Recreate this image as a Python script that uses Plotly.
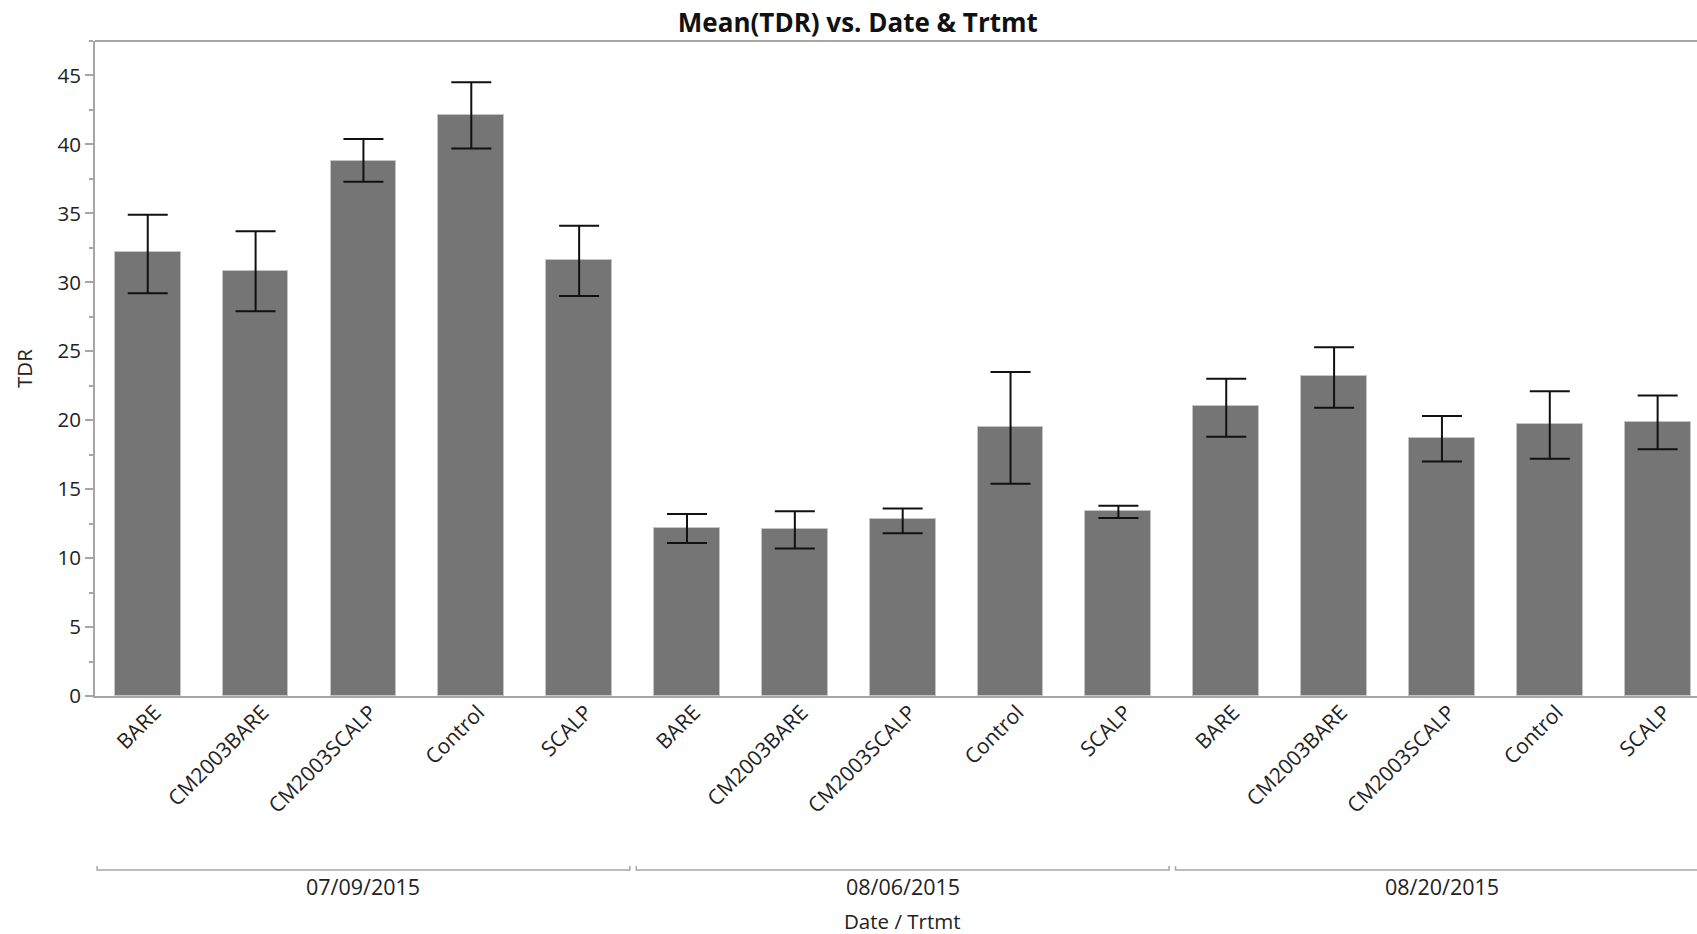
import plotly.graph_objects as go

# Mean TDR by sampling date and treatment, with confidence-interval bounds
dates = ["07/09/2015", "08/06/2015", "08/20/2015"]
treatments = ["BARE", "CM2003BARE", "CM2003SCALP", "Control", "SCALP"]

mean_0709 = [32.2, 30.8, 38.8, 42.1, 31.6]
upper_0709 = [34.9, 33.7, 40.4, 44.5, 34.1]
lower_0709 = [29.2, 27.9, 37.3, 39.7, 29.0]

mean_0806 = [12.2, 12.1, 12.8, 19.5, 13.4]
upper_0806 = [13.2, 13.4, 13.6, 23.5, 13.8]
lower_0806 = [11.1, 10.7, 11.8, 15.4, 12.9]

mean_0820 = [21.0, 23.2, 18.7, 19.7, 19.9]
upper_0820 = [23.0, 25.3, 20.3, 22.1, 21.8]
lower_0820 = [18.8, 20.9, 17.0, 17.2, 17.9]

means = mean_0709 + mean_0806 + mean_0820
uppers = upper_0709 + upper_0806 + upper_0820
lowers = lower_0709 + lower_0806 + lower_0820
labels = treatments * len(dates)
xpos = list(range(len(means)))

FONT = "Open Sans, Noto Sans, sans-serif"
AXIS_GREY = "#a6a6a6"
TEXT = "#222222"

fig = go.Figure()
fig.add_trace(go.Bar(
    x=xpos,
    y=means,
    width=0.61,
    marker=dict(color="#757575", line=dict(color="#c4c4c4", width=1)),
    error_y=dict(
        type="data",
        symmetric=False,
        array=[u - m for u, m in zip(uppers, means)],
        arrayminus=[m - l for m, l in zip(means, lowers)],
        color="#111111",
        thickness=2,
        width=20,
    ),
    hovertemplate="%{y:.2f}<extra></extra>",
))

n = len(treatments)
shapes = []
annotations = []
for g, d in enumerate(dates):
    x0 = g * n - 0.47
    x1 = g * n + n - 1 + 0.47
    shapes.append(dict(
        type="path", xref="x", yref="paper",
        path=f"M {x0},-0.2595 L {x0},-0.2655 L {x1},-0.2655 L {x1},-0.2595",
        line=dict(color=AXIS_GREY, width=1.5),
    ))
    annotations.append(dict(
        x=g * n + (n - 1) / 2, y=-0.291, xref="x", yref="paper",
        text=d, showarrow=False, font=dict(family=FONT, size=21.5, color=TEXT),
        xanchor="center", yanchor="middle",
    ))

annotations.append(dict(
    x=(len(means) - 1) / 2, y=-0.3435, xref="x", yref="paper",
    text="Date / Trtmt", showarrow=False,
    font=dict(family=FONT, size=20.5, color=TEXT),
    xanchor="center", yanchor="middle",
))

# plot-area top border
shapes.append(dict(type="line", xref="paper", yref="paper", x0=0, x1=1, y0=1, y1=1,
                   line=dict(color=AXIS_GREY, width=2)))

fig.update_layout(
    width=1697, height=934,
    margin=dict(l=95, r=0, t=41, b=238),
    paper_bgcolor="white", plot_bgcolor="white",
    showlegend=False,
    title=dict(text="<b>Mean(TDR) vs. Date & Trtmt</b>", x=0.5055, xanchor="center",
               y=0.975, yanchor="middle",
               font=dict(family=FONT, size=26, color="#111111")),
    font=dict(family=FONT, size=20, color=TEXT),
    shapes=shapes,
    annotations=annotations,
    bargap=0,
)

fig.update_xaxes(
    range=[-0.489, len(means) - 1 + 0.365],
    tickmode="array", tickvals=xpos, ticktext=labels,
    tickangle=-45, ticks="", showgrid=False, zeroline=False,
    showline=True, linecolor=AXIS_GREY, linewidth=2,
    ticklabelshift=7, ticklabelstandoff=-6,
    tickfont=dict(family=FONT, size=21, color=TEXT),
)

fig.update_yaxes(
    range=[0, 47.5], dtick=5, tick0=0,
    ticks="outside", ticklen=8, tickcolor=AXIS_GREY, tickwidth=1.5,
    minor=dict(dtick=2.5, ticks="outside", ticklen=4, tickcolor=AXIS_GREY, tickwidth=1.5),
    showgrid=False, zeroline=False,
    showline=True, linecolor=AXIS_GREY, linewidth=2,
    tickfont=dict(family=FONT, size=20.5, color=TEXT),
    title=dict(text="TDR", font=dict(family=FONT, size=20.5, color=TEXT), standoff=19),
)

fig.write_html("out.html")
